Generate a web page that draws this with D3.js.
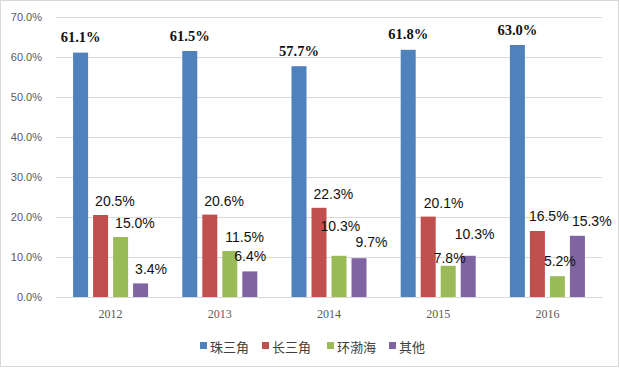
<!DOCTYPE html>
<html>
<head>
<meta charset="utf-8">
<script src="https://cdn.jsdelivr.net/npm/d3@7"></script>
<style>
  body { margin: 0; background: #fff; }
</style>
</head>
<body>
<script>
// data
const years = ["2012", "2013", "2014", "2015", "2016"];
const regions = ["珠三角", "长三角", "环渤海", "其他"];
const zhu = [61.1, 61.5, 57.7, 61.8, 63.0];
const chang = [20.5, 20.6, 22.3, 20.1, 16.5];
const huan = [15.0, 11.5, 10.3, 7.8, 5.2];
const other = [3.4, 6.4, 9.7, 10.3, 15.3];
const yTicks = [0, 10, 20, 30, 40, 50, 60, 70];

const seriesValues = [zhu, chang, huan, other];
const colors = ["#4f81bd", "#c0504d", "#9bbb59", "#8064a2"];

let width = 620;
let height = 368;
let marginTop = 17;
let marginBottom = 71;
let marginLeft = 56;
let marginRight = 18;

// hand-placed label nudges, like in the original (year|series -> [dx, dy])
const nudge = {
    "2013|其他": [-10, -1],
    "2013|环渤海": [1, 0],
    "2014|环渤海": [-13, -16],
    "2014|其他": [2, -2],
    "2015|长三角": [1, 0],
    "2015|环渤海": [-9, 6],
    "2015|其他": [-8, -8],
    "2016|长三角": [-3, -1],
    "2016|环渤海": [-8, -1],
    "2016|其他": [0, -1]
};

let rows = [];
years.forEach((yr, i) => {
    regions.forEach((r, j) => {
        rows.push({ year: yr, region: r, si: j, value: seriesValues[j][i] });
    });
});

let x0 = d3.scaleBand()
    .domain(years)
    .range([marginLeft, width - marginRight])
    .paddingInner(0.313)
    .paddingOuter(0.1565);

let x1 = d3.scaleBand()
    .domain(regions)
    .range([0, x0.bandwidth()])
    .paddingInner(0.25);

let y = d3.scaleLinear()
    .domain([0, 70])
    .range([height - marginBottom, marginTop]);

let svg = d3.select("body").append("svg")
    .attr("width", width)
    .attr("height", height)
    .attr("viewBox", [0, 0, width, height]);

// outer frame
svg.append("rect")
    .attr("x", 0.5).attr("y", 0.5)
    .attr("width", width - 2).attr("height", height - 2)
    .attr("fill", "#fff")
    .attr("stroke", "#d9d9d9");

// gridlines + y labels
svg.append("g")
    .attr("transform", `translate(${marginLeft},0)`)
    .call(d3.axisLeft(y).tickValues(yTicks).tickFormat(d => d.toFixed(1) + "%").tickSize(0).tickPadding(14))
    .call(g => g.select(".domain").remove())
    .call(g => g.selectAll(".tick line").clone()
        .attr("x2", width - marginLeft - marginRight)
        .attr("stroke", "#d9d9d9"))
    .call(g => g.selectAll("text")
        .attr("fill", "#595959")
        .style("font-family", "'Liberation Sans', Arial, sans-serif")
        .style("font-size", "11px"));

// x axis labels
svg.append("g")
    .attr("transform", `translate(0,${height - marginBottom})`)
    .call(d3.axisBottom(x0).tickSize(0).tickPadding(12))
    .call(g => g.select(".domain").attr("stroke", "#d9d9d9"))
    .call(g => g.selectAll("text")
        .attr("fill", "#595959")
        .style("font-family", "'Liberation Serif', 'Times New Roman', serif")
        .style("font-size", "12px"));

// bars
svg.append("g")
    .selectAll("rect")
    .data(rows)
    .join("rect")
    .attr("x", d => x0(d.year) + x1(d.region))
    .attr("y", d => y(d.value))
    .attr("width", x1.bandwidth())
    .attr("height", d => y(0) - y(d.value))
    .attr("fill", d => colors[d.si]);

// value labels
svg.append("g")
    .selectAll("text")
    .data(rows)
    .join("text")
    .attr("x", d => {
        let bx = x0(d.year) + x1(d.region);
        let n = nudge[d.year + "|" + d.region] || [0, 0];
        return d.si === 0 ? bx + x1.bandwidth() / 2 : bx + 2 + n[0];
    })
    .attr("y", d => {
        let n = nudge[d.year + "|" + d.region] || [0, 0];
        return y(d.value) - (d.si === 0 ? 15.5 : 14) + n[1];
    })
    .attr("dominant-baseline", "central")
    .attr("text-anchor", d => d.si === 0 ? "middle" : "start")
    .attr("fill", "#111")
    .style("font-family", d => d.si === 0 ? "'Liberation Serif', 'Times New Roman', serif" : "'Liberation Sans Narrow', 'Liberation Sans', Arial, sans-serif")
    .style("font-weight", d => d.si === 0 ? "bold" : "normal")
    .style("font-size", d => d.si === 0 ? "14.5px" : "14px")
    .text(d => d.value.toFixed(1) + "%");

// legend
let legendX = [200, 262, 327, 389];
let legend = svg.append("g")
    .selectAll("g")
    .data(regions)
    .join("g")
    .attr("transform", (d, i) => `translate(${legendX[i]},342)`);

legend.append("rect")
    .attr("width", 7)
    .attr("height", 7)
    .attr("fill", (d, i) => colors[i]);

legend.append("text")
    .attr("x", 10)
    .attr("y", 4)
    .attr("dominant-baseline", "central")
    .attr("fill", "#404040")
    .style("font-family", "'Noto Sans CJK SC', sans-serif")
    .style("font-size", "13px")
    .text(d => d);
</script>
</body>
</html>
